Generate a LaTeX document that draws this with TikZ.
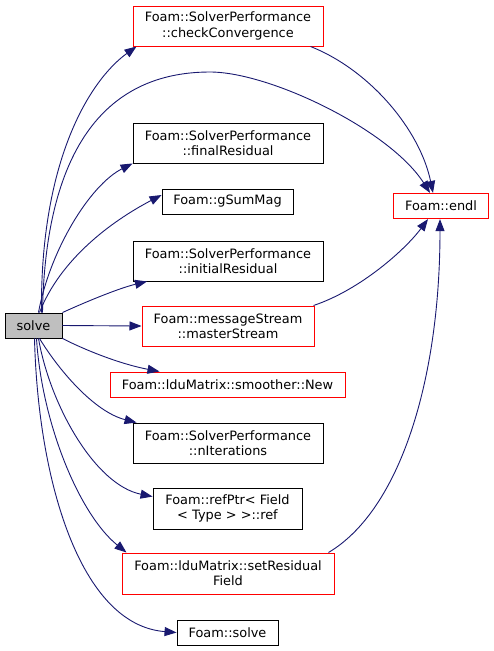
\documentclass[tikz,border=0pt]{standalone}
\usepackage{fontspec}
\setmainfont{DejaVu Sans}
\usetikzlibrary{arrows.meta}
\definecolor{edgecol}{HTML}{191970}
\definecolor{solvefill}{HTML}{BFBFBF}
\definecolor{boxred}{HTML}{FF0000}
\tikzset{
  box/.style={draw=black, line width=0.9pt, fill=white, inner sep=0pt, align=center,
    font=\fontsize{12.9}{15.3}\selectfont},
  redbox/.style={box, draw=boxred, line width=1pt},
  edge/.style={draw=edgecol, line width=0.9pt, -{Triangle[length=12pt,width=9pt]}},
}
\begin{document}
\begin{tikzpicture}[x=1pt,y=-1pt]
\useasboundingbox (0,0) rectangle (493,651);
% nodes
\node[box, fill=solvefill, minimum width=57pt, minimum height=25pt] (solve) at (33.5,325.5) {solve};
\node[redbox, minimum width=190pt, minimum height=40pt] (check) at (228,26) {Foam::SolverPerformance\\::checkConvergence};
\node[box, minimum width=190pt, minimum height=40pt] (final) at (228,143) {Foam::SolverPerformance\\::finalResidual};
\node[box, minimum width=131pt, minimum height=25pt] (gsum) at (227.5,201.5) {Foam::gSumMag};
\node[redbox, minimum width=95pt, minimum height=25pt, line width=1.2pt] (endl) at (441,206) {Foam::endl};
\node[box, minimum width=190pt, minimum height=40pt] (initial) at (228,261) {Foam::SolverPerformance\\::initialResidual};
\node[redbox, minimum width=172pt, minimum height=40pt] (master) at (228,326) {Foam::messageStream\\::masterStream};
\node[redbox, minimum width=235pt, minimum height=25pt] (smoother) at (227.5,384.5) {Foam::lduMatrix::smoother::New};
\node[box, minimum width=190pt, minimum height=40pt] (niter) at (228,443) {Foam::SolverPerformance\\::nIterations};
\node[box, minimum width=149pt, minimum height=41pt] (refptr) at (227.5,508.5) {Foam::refPtr< Field\\< Type > >::ref};
\node[redbox, minimum width=212pt, minimum height=41pt] (setres) at (228,573.5) {Foam::lduMatrix::setResidual\\Field};
\node[box, minimum width=101pt, minimum height=25pt] (fsolve) at (227.5,632.5) {Foam::solve};
% edges from solve
\draw[edge] ([xshift=8pt]solve.north) .. controls (40,160) and (90,80) .. ([xshift=4pt]check.south west);
\draw[edge] ([xshift=9pt]solve.north) .. controls (45,165) and (95,72) .. (210,72)
  .. controls (270,72) and (390,130) .. ([xshift=-11pt]endl.north);
\draw[edge] ([xshift=5pt]solve.north) .. controls (50,250) and (90,185) .. (final.south west);
\draw[edge] ([xshift=6pt]solve.north) .. controls (60,260) and (110,222) .. ([yshift=6.5pt]gsum.west);
\draw[edge] (solve.north east) .. controls (90,300) and (120,288) .. ([xshift=-81pt]initial.south);
\draw[edge] (solve.east) -- (master.west);
\draw[edge] (solve.south east) .. controls (85,350) and (120,364) .. ([xshift=-68pt]smoother.north);
\draw[edge] ([xshift=6pt]solve.south) .. controls (60,372) and (95,412) .. ([xshift=4pt]niter.north west);
\draw[edge] ([xshift=5pt]solve.south) .. controls (50,405) and (95,485) .. ([yshift=-9pt]refptr.north west);
\draw[edge] ([xshift=3pt]solve.south) .. controls (42,425) and (80,515) .. ([xshift=5pt]setres.north west);
\draw[edge] ([xshift=1pt]solve.south) .. controls (38,480) and (80,625) .. (fsolve.west);
% edges to endl
\draw[edge] ([xshift=-13pt]check.south east) .. controls (370,70) and (420,130) .. ([xshift=-8pt]endl.north);
\draw[edge] ([xshift=-1pt]master.north east) .. controls (360,290) and (405,250) .. ([xshift=-13pt]endl.south);
\draw[edge] ([xshift=-6pt]setres.north east) .. controls (400,510) and (440,380) .. ([xshift=-1pt]endl.south);
\end{tikzpicture}
\end{document}
